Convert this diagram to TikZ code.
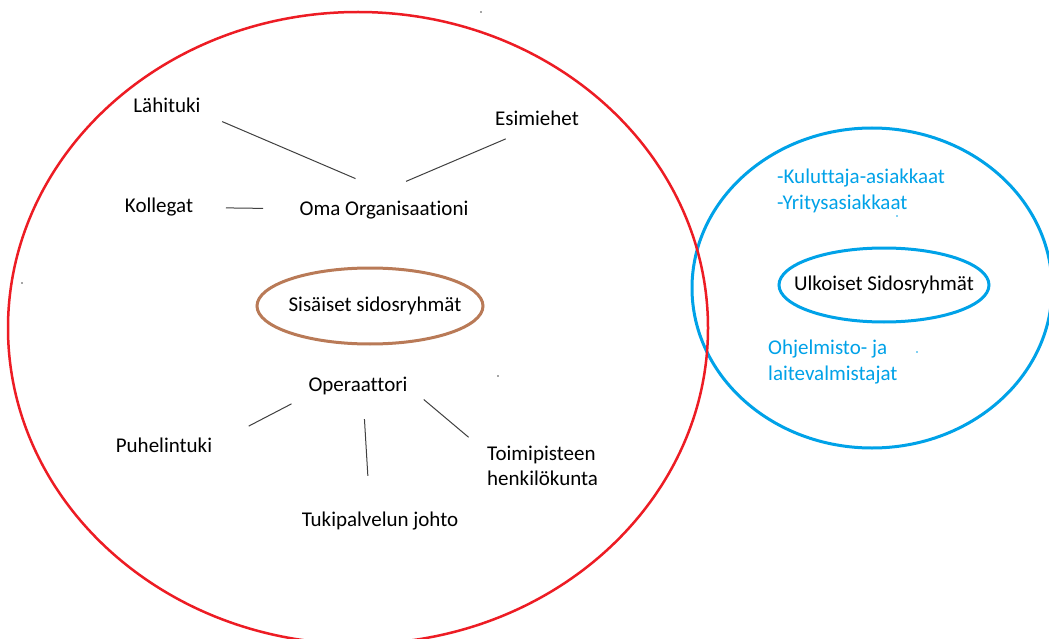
\documentclass[tikz,border=0pt]{standalone}
\usepackage{fontspec}
\setmainfont{Carlito}[Ligatures=NoCommon]
\definecolor{ringred}{RGB}{237,28,36}
\definecolor{ringblue}{RGB}{0,162,232}
\definecolor{ringbrown}{RGB}{185,122,87}

\begin{document}
\begin{tikzpicture}[x=1pt,y=-1pt,
  every node/.style={font=\fontsize{21}{25.5}\selectfont, inner sep=0pt},
  ring/.style={line width=3pt},
  twoline/.style={align=left, anchor=west},
  link/.style={draw=black!75, line width=1pt}]
% Frame
  \useasboundingbox (0,0) rectangle (1049,639);
  \clip (0,0) rectangle (1049,639);
  \fill[white] (0,0) rectangle (1049,639);
% Big circles
  \draw[ring, ringblue] (872,288) ellipse (180pt and 160pt);
  \draw[ringred, line width=2.5pt] (358,328) ellipse (350pt and 316pt);
% Inner groups
  \node (lahituki) at (167,105) {Lähituki};
  \node (esimiehet) at (537,118) {Esimiehet};
  \node (kollegat) at (159,207) {Kollegat};
  \node (oma) at (384,210) {Oma Organisaationi};
  \node (sisaiset) at (375,306) {Sisäiset sidosryhmät};
  \draw[ring, ringbrown] ([xshift=-5pt]sisaiset.center) ellipse (113pt and 38pt);
  \node (operaattori) at (358,386) {Operaattori};
  \node (puhelintuki) at (164,445) {Puhelintuki};
  \node (tukipalvelu) at (380,521) {Tukipalvelun johto};
  \node[twoline] (toimipiste) at (487,466) {Toimipisteen\\henkilökunta};
% Outer groups
  \node (ulkoiset) at (884,285) {Ulkoiset Sidosryhmät};
  \draw[ring, ringblue] (ulkoiset.center) ellipse (105pt and 37pt);
  \node[twoline, text=ringblue] (asiakkaat) at (777,191) {-Kuluttaja-asiakkaat\\-Yritysasiakkaat};
  \node[twoline, text=ringblue] (valmistajat) at (768,362) {Ohjelmisto- ja\\laitevalmistajat};
% Links
  \draw[link, shorten <=60pt, shorten >=31pt] ([yshift=7pt]lahituki.center) -- ([yshift=10pt]oma.north);
  \draw[link, shorten <=34pt, shorten >=24pt] (esimiehet.south) -- ([yshift=10pt]oma.north);
  \draw[link, shorten <=67pt, shorten >=121pt] (kollegat.center) -- (oma.center);
  \draw[link, shorten <=19pt, shorten >=41pt] (operaattori.south west) -- (puhelintuki.east);
  \draw[link, shorten <=24pt, shorten >=36pt] ([xshift=5pt]operaattori.south) -- ([xshift=-10pt]tukipalvelu.north);
  \draw[link, shorten <=21pt, shorten >=24pt] (operaattori.east) -- ([yshift=-7pt]toimipiste.north west);
% Specks
  \fill[black!70] (481,12) circle (0.8pt);
  \fill[black!70] (22,283) circle (0.8pt);
  \fill[black!70] (498,376) circle (0.8pt);
  \fill[ringblue] (897,216) circle (0.8pt);
  \fill[ringblue] (917,352) circle (0.8pt);
\end{tikzpicture}
\end{document}
